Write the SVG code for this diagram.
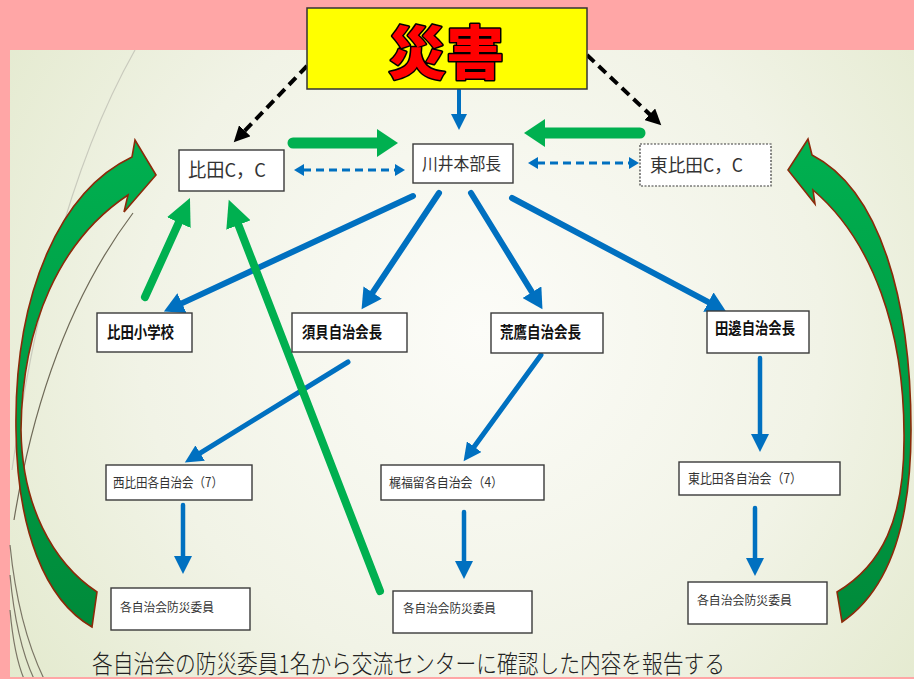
<svg xmlns="http://www.w3.org/2000/svg" width="914" height="679" viewBox="0 0 914 679">
<style>
.box{fill:#fff;stroke:#3a3a3a;stroke-width:1.4}
.dotted{stroke-dasharray:2 1.5;stroke-width:1.2}
.t{font-family:"Noto Sans CJK JP","Liberation Sans",sans-serif;fill:#333;lengthAdjust:spacingAndGlyphs}
.tb{font-family:"Noto Sans CJK JP","Liberation Sans",sans-serif;fill:#111;font-weight:700}
.blue{fill:none;stroke:#0070C0;stroke-linecap:round}
.green{fill:none;stroke:#00B050;stroke-linecap:round}
.bdash{fill:none;stroke:#0070C0;stroke-width:3;stroke-dasharray:8 5}
.kdash{fill:none;stroke:#000;stroke-width:4;stroke-dasharray:10 6}
.curve{stroke:#8B2A0A;stroke-width:1.6;stroke-linejoin:miter}
.deco{fill:none;stroke-width:1.2}
</style>
<defs>
<radialGradient id="bg" cx="480" cy="330" r="620" gradientUnits="userSpaceOnUse">
<stop offset="0" stop-color="#FCFCF8"/>
<stop offset="0.55" stop-color="#F1F3E6"/>
<stop offset="1" stop-color="#E1E8CA"/>
</radialGradient>
<linearGradient id="gl" x1="0" y1="0" x2="0" y2="1">
<stop offset="0" stop-color="#00B050"/>
<stop offset="1" stop-color="#008A3A"/>
</linearGradient>
<marker id="hb" markerUnits="userSpaceOnUse" markerWidth="22" markerHeight="22" refX="1" refY="11" orient="auto"><path d="M0,0 L20,11 L0,22 z" fill="#0070C0"/></marker>
<marker id="hbs" markerUnits="userSpaceOnUse" markerWidth="20" markerHeight="18" refX="1" refY="9" orient="auto"><path d="M0,0 L18,9 L0,18 z" fill="#0070C0"/></marker>
<marker id="hbt" markerUnits="userSpaceOnUse" markerWidth="18" markerHeight="16" refX="1" refY="8" orient="auto"><path d="M0,0 L16,8 L0,16 z" fill="#0070C0"/></marker>
<marker id="hbd" markerUnits="userSpaceOnUse" markerWidth="12" markerHeight="12" refX="1" refY="6" orient="auto-start-reverse"><path d="M0,0 L10,6 L0,12 z" fill="#0070C0"/></marker>
<marker id="hk" markerUnits="userSpaceOnUse" markerWidth="18" markerHeight="16" refX="1" refY="8" orient="auto"><path d="M0,0 L16,8 L0,16 z" fill="#000"/></marker>
<marker id="hgh" markerUnits="userSpaceOnUse" markerWidth="24" markerHeight="28" refX="1" refY="14" orient="auto"><path d="M0,0 L21,14 L0,28 z" fill="#00B050"/></marker>
<marker id="hgd" markerUnits="userSpaceOnUse" markerWidth="30" markerHeight="26" refX="1" refY="13" orient="auto"><path d="M0,0 L27,13 L0,26 z" fill="#00B050"/></marker>
</defs>

<!-- background -->
<rect x="0" y="0" width="914" height="679" fill="#FFA6A6"/>
<rect x="10" y="50" width="904" height="627" fill="url(#bg)"/>
<path class="deco" d="M135,50 Q50,200 12,470" stroke="#C9CABD"/>
<path class="deco" d="M133,213 Q45,330 14,520" stroke="#6F6A58"/>
<path class="deco" d="M10,545 Q18,625 44,679" stroke="#7A7565"/>
<path class="deco" d="M10,575 Q16,640 34,679" stroke="#7A7565"/>
<path class="deco" d="M10,610 Q14,655 24,679" stroke="#7A7565"/>

<g id="connectors">
<!-- big curved report arrows -->
<path class="curve" fill="url(#gl)" d="M97,592 C52,562 22,505 21,430 C22,325 60,240 128,195 L124,212 L156,175 L135,140 L132,157 C62,190 14,290 16,430 C17,530 45,600 92,627 Z"/>
<path class="curve" fill="url(#gl)" d="M837,592 C882,565 904,520 904,440 C905,330 872,240 813,190 L815,204 L788,170 L808,139 L812,155 C880,190 911,300 911,430 C911,530 886,592 842,622 Z"/>
<!-- black dashed from title -->
<path class="kdash" d="M307,66 L244.1,131.5" marker-end="url(#hk)"/>
<path class="kdash" d="M587,55 L650.4,115" marker-end="url(#hk)"/>
<!-- title to headquarters -->
<path class="blue" stroke-width="4" stroke-linecap="butt" d="M459,90 L459,115" marker-end="url(#hbt)"/>
<!-- green horizontal -->
<path class="green" stroke-width="11" d="M293,143 L378,143" marker-end="url(#hgh)"/>
<path class="green" stroke-width="11" d="M640,133 L544,133" marker-end="url(#hgh)"/>
<!-- blue dashed two-way -->
<path class="bdash" d="M303,170 L396,170" marker-start="url(#hbd)" marker-end="url(#hbd)"/>
<path class="bdash" d="M537,163 L630,163" marker-start="url(#hbd)" marker-end="url(#hbd)"/>
<!-- from headquarters -->
<path class="blue" stroke-width="6" d="M413,196 L181.1,303.6" marker-end="url(#hb)"/>
<path class="blue" stroke-width="6" d="M439,193 L372.1,293.4" marker-end="url(#hb)"/>
<path class="blue" stroke-width="6" d="M471,193 L532.5,293" marker-end="url(#hb)"/>
<path class="blue" stroke-width="6" d="M512,198 L709.3,302.6" marker-end="url(#hb)"/>
<!-- lower blue -->
<path class="blue" stroke-width="5" d="M348,362 L199.3,453.6" marker-end="url(#hbs)"/>
<path class="blue" stroke-width="5" d="M541,355 L473.6,447.5" marker-end="url(#hbs)"/>
<path class="blue" stroke-width="4.5" d="M760,358 L760,435" marker-end="url(#hbs)"/>
<path class="blue" stroke-width="4.5" d="M183,505 L183,557" marker-end="url(#hbs)"/>
<path class="blue" stroke-width="4.5" d="M464,512 L464,562" marker-end="url(#hbs)"/>
<path class="blue" stroke-width="4.5" d="M755,508 L755,559" marker-end="url(#hbs)"/>
<!-- green reports -->
<path class="green" stroke-width="8" d="M145,297 L179.2,221.7" marker-end="url(#hgd)"/>
<path class="green" stroke-width="8" d="M380,591 L238.1,224.1" marker-end="url(#hgd)"/>
</g>

<g id="title">
<rect x="307" y="8" width="280" height="81" fill="#FFFF00" stroke="#333" stroke-width="1.5"/>
<text x="446" y="74" text-anchor="middle" font-family="'Noto Sans CJK JP',sans-serif" font-weight="900" font-size="58" fill="#FF0000" stroke="#000" stroke-width="3" paint-order="stroke" stroke-linejoin="round">災害</text>
</g>

<g id="n-hida-cc"><rect class="box" x="179" y="150" width="105" height="41"/><text class="t" x="188" y="177" font-size="19" textLength="78" lengthAdjust="spacingAndGlyphs">比田C，C</text></g>
<g id="n-kawai"><rect class="box" x="413" y="144" width="100" height="39"/><text class="t" x="422" y="170" font-size="17" textLength="79" lengthAdjust="spacingAndGlyphs">川井本部長</text></g>
<g id="n-higashi-cc"><rect class="box dotted" x="640" y="144" width="131" height="42"/><text class="t" x="650" y="172" font-size="18" textLength="93" lengthAdjust="spacingAndGlyphs">東比田C，C</text></g>

<g id="n-school"><rect class="box" x="97" y="313" width="95" height="39"/><text class="tb" x="107" y="338" font-size="16" textLength="67" lengthAdjust="spacingAndGlyphs">比田小学校</text></g>
<g id="n-sugai"><rect class="box" x="292" y="313" width="115" height="39"/><text class="tb" x="302" y="338" font-size="16" textLength="80" lengthAdjust="spacingAndGlyphs">須貝自治会長</text></g>
<g id="n-arataka"><rect class="box" x="491" y="313" width="112" height="40"/><text class="tb" x="500" y="338" font-size="16" textLength="81" lengthAdjust="spacingAndGlyphs">荒鷹自治会長</text></g>
<g id="n-tanabe"><rect class="box" x="707" y="311" width="102" height="42"/><text class="tb" x="715" y="334" font-size="16" textLength="80" lengthAdjust="spacingAndGlyphs">田邊自治会長</text></g>

<g id="n-nishihida"><rect class="box" x="106" y="465" width="146" height="35"/><text class="t" x="113" y="487" font-size="13" textLength="110" lengthAdjust="spacingAndGlyphs">西比田各自治会（7）</text></g>
<g id="n-kajifukudome"><rect class="box" x="381" y="465" width="163" height="35"/><text class="t" x="389" y="487" font-size="13" textLength="114" lengthAdjust="spacingAndGlyphs">梶福留各自治会（4）</text></g>
<g id="n-higashihida"><rect class="box" x="679" y="462" width="161" height="33"/><text class="t" x="688" y="483" font-size="13" textLength="114" lengthAdjust="spacingAndGlyphs">東比田各自治会（7）</text></g>

<g id="n-bosai-1"><rect class="box" x="111" y="588" width="139" height="42"/><text class="t" x="120" y="612" font-size="12" textLength="94" lengthAdjust="spacingAndGlyphs">各自治会防災委員</text></g>
<g id="n-bosai-2"><rect class="box" x="393" y="591" width="139" height="42"/><text class="t" x="403" y="613" font-size="12" textLength="93" lengthAdjust="spacingAndGlyphs">各自治会防災委員</text></g>
<g id="n-bosai-3"><rect class="box" x="688" y="582" width="139" height="42"/><text class="t" x="697" y="605" font-size="12" textLength="95" lengthAdjust="spacingAndGlyphs">各自治会防災委員</text></g>

<text x="92" y="673" font-family="'Noto Sans CJK JP',sans-serif" font-weight="300" font-size="25" fill="#222" textLength="633" lengthAdjust="spacingAndGlyphs">各自治会の防災委員1名から交流センターに確認した内容を報告する</text>
<rect x="0" y="677" width="133" height="2" fill="#FFA6A6"/>
</svg>
